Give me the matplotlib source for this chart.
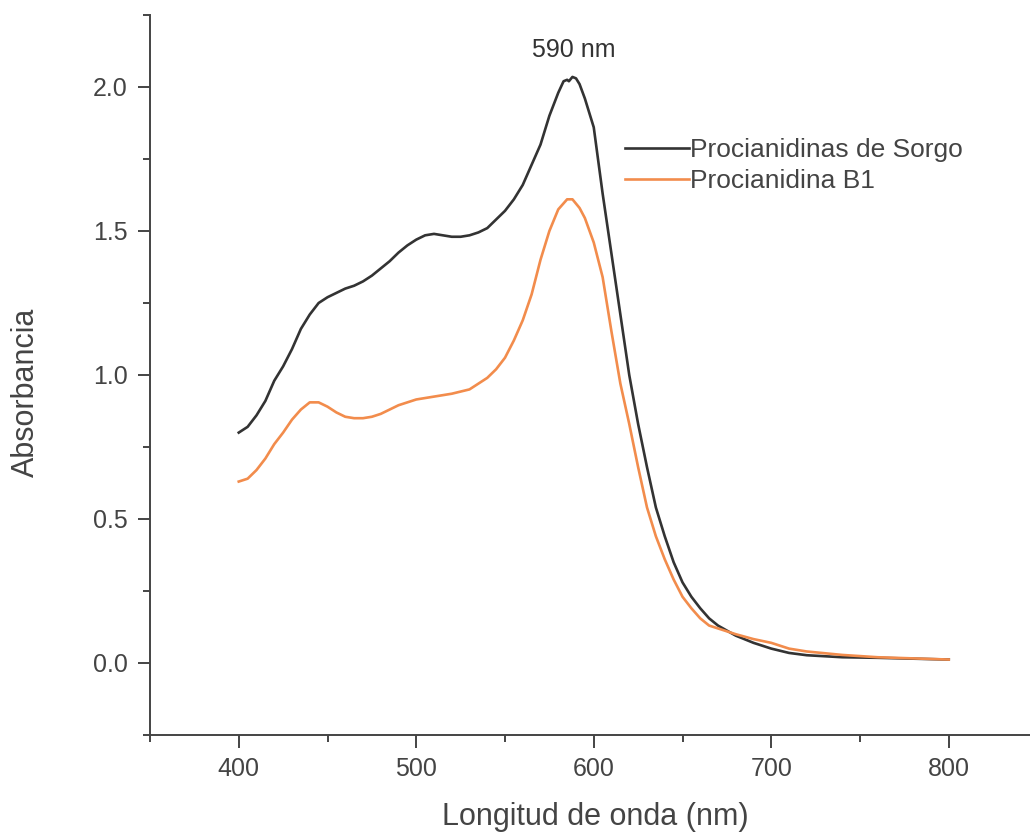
import matplotlib.pyplot as plt
from matplotlib.ticker import MultipleLocator, FormatStrFormatter

plt.rcParams['font.family'] = ['Liberation Sans', 'DejaVu Sans']

# Procianidinas de Sorgo
wl_sorgo = [400, 405, 410, 415, 420, 425, 430, 435, 440, 445, 450, 455, 460, 465,
            470, 475, 480, 485, 490, 495, 500, 505, 510, 515, 520, 525, 530, 535,
            540, 545, 550, 555, 560, 565, 570, 575, 580, 583, 585, 586, 588, 590,
            592, 595, 600, 605, 610, 615, 620, 625, 630, 635, 640, 645, 650, 655,
            660, 665, 670, 680, 690, 700, 710, 720, 740, 760, 780, 800]
abs_sorgo = [0.80, 0.82, 0.86, 0.91, 0.98, 1.03, 1.09, 1.16, 1.21, 1.25, 1.27, 1.285,
             1.30, 1.31, 1.325, 1.345, 1.37, 1.395, 1.425, 1.45, 1.47, 1.485, 1.49,
             1.485, 1.48, 1.48, 1.485, 1.495, 1.51, 1.54, 1.57, 1.61, 1.66, 1.73,
             1.80, 1.90, 1.98, 2.02, 2.025, 2.02, 2.035, 2.03, 2.01, 1.96, 1.86, 1.63,
             1.42, 1.21, 1.00, 0.83, 0.68, 0.54, 0.44, 0.35, 0.28, 0.23, 0.19, 0.155,
             0.13, 0.095, 0.07, 0.05, 0.035, 0.027, 0.02, 0.018, 0.015, 0.012]

# Procianidina B1
wl_b1 = [400, 405, 410, 415, 420, 425, 430, 435, 440, 445, 450, 455, 460, 465, 470,
         475, 480, 485, 490, 495, 500, 510, 520, 530, 535, 540, 545, 550, 555, 560,
         565, 570, 575, 580, 585, 588, 592, 595, 600, 605, 610, 615, 620, 625, 630,
         635, 640, 645, 650, 655, 660, 665, 670, 680, 690, 700, 710, 720, 740, 760,
         780, 800]
abs_b1 = [0.63, 0.64, 0.67, 0.71, 0.76, 0.80, 0.845, 0.88, 0.905, 0.905, 0.89, 0.87,
          0.855, 0.85, 0.85, 0.855, 0.865, 0.88, 0.895, 0.905, 0.915, 0.925, 0.935,
          0.95, 0.97, 0.99, 1.02, 1.06, 1.12, 1.19, 1.28, 1.40, 1.50, 1.575, 1.61,
          1.61, 1.58, 1.545, 1.46, 1.34, 1.15, 0.97, 0.83, 0.68, 0.54, 0.44, 0.36,
          0.29, 0.23, 0.19, 0.155, 0.13, 0.12, 0.10, 0.083, 0.07, 0.05, 0.04, 0.028,
          0.02, 0.016, 0.012]

W, H = 1030, 836
fig = plt.figure(figsize=(W / 100, H / 100), dpi=100)
ax = fig.add_axes([150 / W, 101 / H, (W - 150) / W, 720 / H])

ax.plot(wl_sorgo, abs_sorgo, color='#333333', linewidth=1.9, label='Procianidinas de Sorgo')
ax.plot(wl_b1, abs_b1, color='#f28c4c', linewidth=1.9, label='Procianidina B1')

ax.set_xlim(350, 350 + (W - 150) / 1.775)
ax.set_ylim(-0.25, 2.25)

ax.spines['top'].set_visible(False)
ax.spines['right'].set_visible(False)
for s in ('left', 'bottom'):
    ax.spines[s].set_linewidth(1.4)
    ax.spines[s].set_color('#444444')

ax.xaxis.set_minor_locator(MultipleLocator(50))
ax.yaxis.set_minor_locator(MultipleLocator(0.25))
ax.yaxis.set_major_formatter(FormatStrFormatter('%.1f'))
ax.set_xticks([400, 500, 600, 700, 800])
ax.set_yticks([0.0, 0.5, 1.0, 1.5, 2.0])

ax.tick_params(which='major', direction='out', length=9, width=1.4, color='#444444',
               labelsize=18, labelcolor='#444444', pad=7)
ax.tick_params(which='minor', direction='out', length=5, width=1.4, color='#444444')

ax.set_xlabel('Longitud de onda (nm)', fontsize=22, color='#444444', va='center')
ax.set_ylabel('Absorbancia', fontsize=22, color='#444444', va='center')
ax.xaxis.set_label_coords((595 - 150) / 880, (836 - 101 - 817) / 720)
ax.yaxis.set_label_coords((26 - 150) / 880, (836 - 101 - 392) / 720)

ax.text(589, 2.13, '590 nm', fontsize=18, color='#333333', ha='center', va='center')

ax.legend(loc='upper left', bbox_to_anchor=(612 / W, 1 - 125 / H),
          bbox_transform=fig.transFigure, frameon=False, fontsize=19,
          handlelength=2.4, handletextpad=0.05, labelspacing=0.25, borderpad=0,
          labelcolor='#444444')

fig.savefig('out.png', dpi=100)
